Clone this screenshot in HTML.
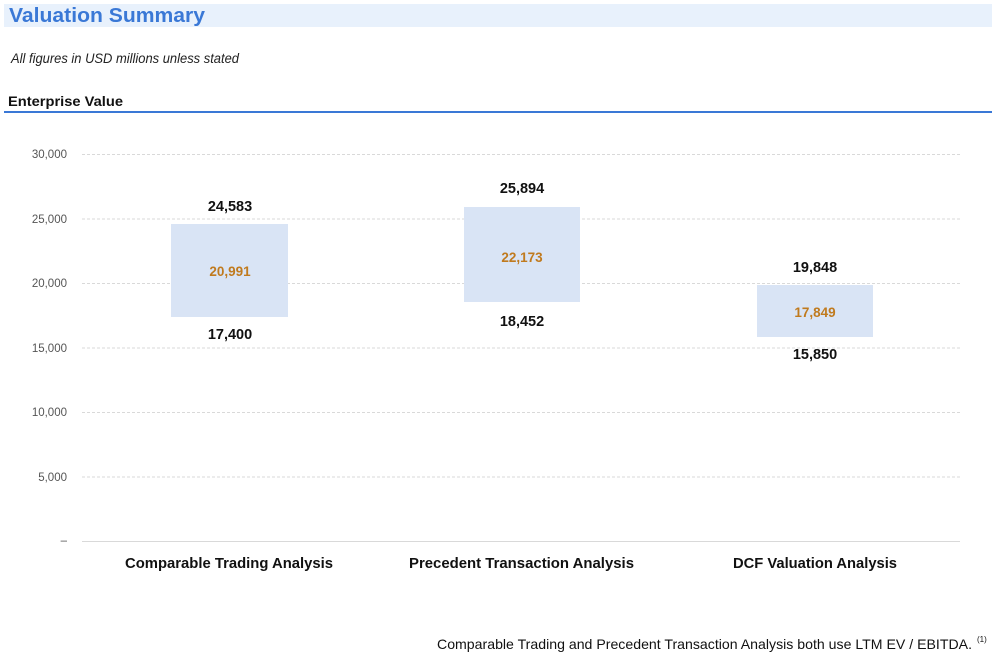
<!DOCTYPE html>
<html><head><meta charset="utf-8"><style>
body{margin:0;background:#fff;width:998px;height:661px;overflow:hidden;font-family:"Liberation Sans",sans-serif}
</style></head><body>
<svg width="998" height="661" xmlns="http://www.w3.org/2000/svg" font-family="Liberation Sans, sans-serif">
<rect x="4" y="4" width="988" height="23" fill="#e8f1fc"/>
<text x="9" y="22" font-size="20" font-weight="bold" fill="#3a78d6" textLength="196" lengthAdjust="spacingAndGlyphs">Valuation Summary</text>
<text x="11" y="63" font-size="13.5" font-style="italic" fill="#222" textLength="228" lengthAdjust="spacingAndGlyphs">All figures in USD millions unless stated</text>
<text x="8" y="106" font-size="14" font-weight="bold" fill="#111" textLength="115" lengthAdjust="spacingAndGlyphs">Enterprise Value</text>
<rect x="4" y="111" width="988" height="2" fill="#3a78d6"/>
<g stroke="#d9d9d9" stroke-dasharray="3,2" stroke-width="1">
<line x1="82" x2="960" y1="154.5" y2="154.5"/><line x1="82" x2="960" y1="219" y2="219"/>
<line x1="82" x2="960" y1="283.5" y2="283.5"/><line x1="82" x2="960" y1="348" y2="348"/>
<line x1="82" x2="960" y1="412.5" y2="412.5"/><line x1="82" x2="960" y1="477" y2="477"/>
</g>
<line x1="82" x2="960" y1="541.5" y2="541.5" stroke="#d9d9d9"/>
<g font-size="11.5" fill="#555" text-anchor="end">
<text x="67" y="158">30,000</text><text x="67" y="223">25,000</text><text x="67" y="287">20,000</text>
<text x="67" y="352">15,000</text><text x="67" y="416">10,000</text><text x="67" y="481">5,000</text>
<text x="67" y="544">–</text>
</g>
<rect x="171" y="224" width="117" height="93" fill="#d9e4f5"/>
<rect x="464" y="207" width="116" height="95" fill="#d9e4f5"/>
<rect x="757" y="285" width="116" height="52" fill="#d9e4f5"/>
<g font-size="14.5" font-weight="bold" text-anchor="middle" fill="#111">
<text x="230" y="211">24,583</text><text x="230" y="339">17,400</text>
<text x="522" y="193">25,894</text><text x="522" y="326">18,452</text>
<text x="815" y="272">19,848</text><text x="815" y="359">15,850</text>
</g>
<g font-size="13.5" font-weight="bold" text-anchor="middle" fill="#c07a1e">
<text x="230" y="276">20,991</text><text x="522" y="262">22,173</text><text x="815" y="317">17,849</text>
</g>
<g font-size="14.5" font-weight="bold" fill="#111">
<text x="125" y="568" textLength="208" lengthAdjust="spacingAndGlyphs">Comparable Trading Analysis</text>
<text x="409" y="568" textLength="225" lengthAdjust="spacingAndGlyphs">Precedent Transaction Analysis</text>
<text x="733" y="568" textLength="164" lengthAdjust="spacingAndGlyphs">DCF Valuation Analysis</text>
</g>
<text x="437" y="649" font-size="14" fill="#111" textLength="535" lengthAdjust="spacingAndGlyphs">Comparable Trading and Precedent Transaction Analysis both use LTM EV / EBITDA.</text>
<text x="977" y="642" font-size="8" fill="#111">(1)</text>
</svg>
</body></html>
